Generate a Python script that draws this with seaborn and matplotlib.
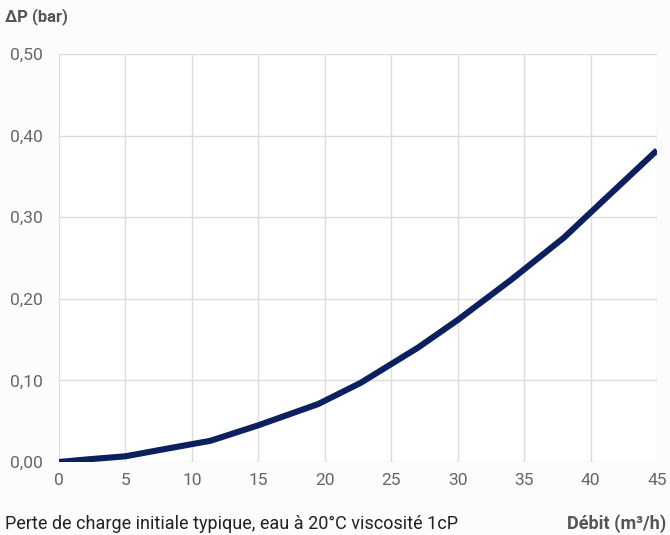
import matplotlib
matplotlib.use("Agg")
import matplotlib.pyplot as plt
import seaborn as sns
import pandas as pd
from matplotlib.ticker import FuncFormatter

debit = [0, 2, 5, 8, 11.4, 15, 19.5, 22.7, 27, 30, 34, 38, 41, 45]
delta_p = [0.0, 0.003, 0.007, 0.016, 0.026, 0.045, 0.071, 0.097, 0.140, 0.174, 0.223, 0.275, 0.321, 0.382]
x_ticks = [0, 5, 10, 15, 20, 25, 30, 35, 40, 45]
y_ticks = [0.0, 0.1, 0.2, 0.3, 0.4, 0.5]

df = pd.DataFrame({"debit": debit, "dp": delta_p})

sns.set_style("white")
plt.rcParams["font.family"] = ["Roboto", "DejaVu Sans"]

fig = plt.figure(figsize=(6.7, 5.35), dpi=100)
fig.patch.set_facecolor("#fcfcfc")
ax = fig.add_axes([59/670, 73/535, 598/670, 408/535])
ax.set_facecolor("white")

sns.lineplot(data=df, x="debit", y="dp", ax=ax, color="#0c1f5e", linewidth=4.4,
             solid_capstyle="butt", zorder=3)

ax.set_xlim(0, 45)
ax.set_ylim(0, 0.5)
ax.set_xticks(x_ticks)
ax.set_yticks(y_ticks)
ax.yaxis.set_major_formatter(FuncFormatter(lambda v, p: f"{v:.2f}".replace(".", ",")))
ax.grid(True, color="#dcdcdc", linewidth=1.0)
for s in ax.spines.values():
    s.set_visible(False)
ax.tick_params(axis="both", length=0, labelsize=12.5, labelcolor="#666666")
ax.tick_params(axis="x", pad=8)
ax.tick_params(axis="y", pad=12)
ax.set_xlabel("")
ax.set_ylabel("")

fig.text(5/670, 1 - 17/535, "ΔP (bar)", fontsize=12, fontweight="bold", color="#555555",
         ha="left", va="center")
fig.text(5/670, 1 - 524/535, "Perte de charge initiale typique, eau à 20°C viscosité 1cP",
         fontsize=13, color="#222222", ha="left", va="center")
fig.text(666/670, 1 - 524/535, "Débit (m³/h)", fontsize=13, fontweight="bold",
         color="#555555", ha="right", va="center")

fig.savefig("out.png", dpi=100, facecolor=fig.get_facecolor())
